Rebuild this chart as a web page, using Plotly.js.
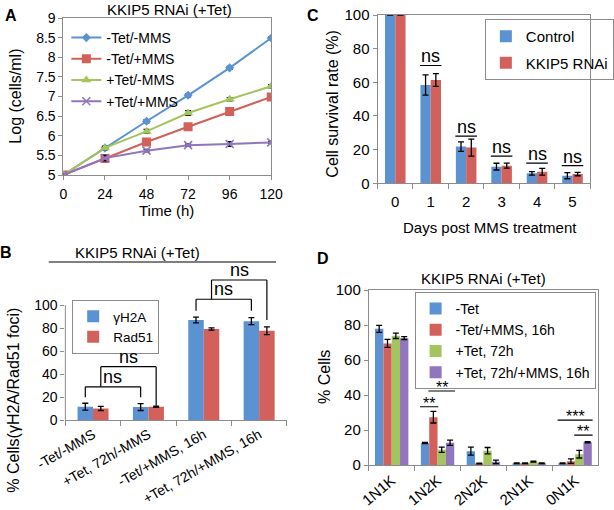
<!DOCTYPE html>
<html><head><meta charset="utf-8">
<script src="https://cdn.plot.ly/plotly-3.0.1.min.js"></script>
<style>html,body{margin:0;padding:0;background:#fff}#chart{width:614px;height:510px}</style>
</head><body><div id="chart"></div>
<script>
// ---------- Panel A: growth curves ----------
const timeHours = [0, 24, 48, 72, 96, 120];
const growthNames = ['-Tet/-MMS', '-Tet/+MMS', '+Tet/-MMS', '+Tet/+MMS'];
const growthMinusTetMinusMMS = [5.0, 5.69, 6.37, 7.03, 7.73, 8.49];
const growthMinusTetPlusMMS  = [5.0, 5.42, 5.84, 6.23, 6.62, 6.99];
const growthPlusTetMinusMMS  = [5.0, 5.69, 6.11, 6.58, 6.93, 7.26];
const growthPlusTetPlusMMS   = [5.0, 5.43, 5.62, 5.76, 5.79, 5.83];
const errMinusTetMinusMMS = [0.02, 0.04, 0.04, 0.04, 0.04, 0.03];
const errMinusTetPlusMMS  = [0.02, 0.10, 0.05, 0.04, 0.04, 0.06];
const errPlusTetMinusMMS  = [0.02, 0.04, 0.05, 0.06, 0.04, 0.04];
const errPlusTetPlusMMS   = [0.02, 0.07, 0.03, 0.03, 0.06, 0.03];

// ---------- Panel C: survival ----------
const days = ['0', '1', '2', '3', '4', '5'];
const survivalNames = ['Control', 'KKIP5 RNAi'];
const survivalControl = [100, 58.4, 21.8, 9.9, 5.9, 4.5];
const survivalControlErr = [0, 6, 2.8, 2, 1, 1.8];
const survivalRNAi = [100, 61.4, 21.2, 10.5, 6.9, 5.5];
const survivalRNAiErr = [0, 3.8, 5, 1.5, 2, 1];
const survivalNsLevel = [null, 70, 28, 16.2, 12, 10.5];
const survivalNsLabel = ['', 'ns', 'ns', 'ns', 'ns', 'ns'];

// ---------- Panel B: foci ----------
const fociCats = ['-Tet/-MMS', '+Tet, 72h/-MMS', '-Tet/+MMS, 16h', '+Tet, 72h/+MMS, 16h'];
const fociNames = ['\u03b3H2A', 'Rad51'];
const fociGammaH2A = [11.8, 11.5, 87, 86];
const fociGammaH2AErr = [3, 3, 2.5, 3];
const fociRad51 = [10.3, 11.8, 79.2, 77.7];
const fociRad51Err = [1.8, 0.5, 1, 3.3];
// brackets: series index, category from/to, top level, leg ends
const bracketSeries = [0, 1, 0, 1];
const bracketFrom = [0, 0, 2, 2];
const bracketTo = [1, 1, 3, 3];
const bracketTop = [29, 46.5, 105, 121.7];
const bracketLegLeft = [20, 29, 95, 105];
const bracketLegRight = [20, 12.7, 95, 87];
const bracketLabel = ['ns', 'ns', 'ns', 'ns'];

// ---------- Panel D: cell cycle ----------
const knCats = ['1N1K', '1N2K', '2N2K', '2N1K', '0N1K'];
const knNames = ['-Tet', '-Tet/+MMS, 16h', '+Tet, 72h', '+Tet, 72h/+MMS, 16h'];
const knMinusTet = [77.8, 12.6, 7.9, 1.0, 1.0];
const knMinusTetErr = [2, 0.3, 2.3, 0.2, 0.2];
const knMinusTetMMS = [69.5, 27.3, 0.8, 1.0, 2.2];
const knMinusTetMMSErr = [2.3, 3.3, 0.2, 0.2, 1.3];
const knPlusTet = [73.8, 8.7, 8.2, 1.9, 6.2];
const knPlusTetErr = [1.5, 1.5, 1.8, 0.3, 2.2];
const knPlusTetMMS = [72.5, 12.7, 1.8, 1.0, 13.0];
const knPlusTetMMSErr = [0.8, 1.5, 1.0, 0.2, 0.3];
const sigCat = [1, 1, 4, 4];
const sigFrom = [0, 1, 0, 2];
const sigTo = [1, 3, 3, 3];
const sigLevel = [33.3, 42.3, 25.7, 17.1];
const sigLabel = ['**', '**', '***', '**'];

// ---------- styling ----------
const W = 614, H = 510;
const px = v => v / W;
const py = v => 1 - v / H;
const FONT = 'Liberation Sans, Arial, sans-serif';
const BLUE = '#5A92D2', RED = '#D2605B', GREEN = '#A4C55E', PURPLE = '#9175BD';
const AXC = '#8C8C8C';
const errStyle = (arr) => ({type: 'data', array: arr, visible: true, color: '#000', thickness: 1.3, width: 3});

const traces = [];
// A
const aSeries = [growthMinusTetMinusMMS, growthMinusTetPlusMMS, growthPlusTetMinusMMS, growthPlusTetPlusMMS];
const aErr = [errMinusTetMinusMMS, errMinusTetPlusMMS, errPlusTetMinusMMS, errPlusTetPlusMMS];
const aColors = [BLUE, RED, GREEN, PURPLE];
const aSymbols = ['diamond', 'square', 'triangle-up', 'x-thin-open'];
const aSizes = [7, 9, 9, 8];
aSeries.forEach((ys, i) => {
  traces.push({
    type: 'scatter', mode: 'lines+markers', name: growthNames[i],
    x: timeHours, y: ys, xaxis: 'x', yaxis: 'y', legend: 'legend',
    line: {color: aColors[i], width: 2},
    marker: {symbol: aSymbols[i], size: aSizes[i], color: aColors[i], line: {color: aColors[i], width: i === 3 ? 1.6 : 0}},
    error_y: errStyle(aErr[i])
  });
});
// C
const wC = 0.29;
[[survivalControl, survivalControlErr, BLUE], [survivalRNAi, survivalRNAiErr, RED]].forEach((s, i) => {
  traces.push({
    type: 'bar', name: survivalNames[i], x: days, y: s[0], xaxis: 'x2', yaxis: 'y2', legend: 'legend2',
    legendgroup: 'c' + i,
    width: wC, offset: i === 0 ? -wC : 0, marker: {color: s[2]}, error_y: errStyle(s[1])
  });
});
// B
const wB = 0.28;
[[fociGammaH2A, fociGammaH2AErr, BLUE], [fociRad51, fociRad51Err, RED]].forEach((s, i) => {
  traces.push({
    type: 'bar', name: fociNames[i], x: fociCats, y: s[0], xaxis: 'x3', yaxis: 'y3', legend: 'legend3',
    width: wB, offset: i === 0 ? -wB : 0, marker: {color: s[2]}, error_y: errStyle(s[1])
  });
});
// D
const wD = 0.182;
const dSeries = [[knMinusTet, knMinusTetErr, BLUE], [knMinusTetMMS, knMinusTetMMSErr, RED], [knPlusTet, knPlusTetErr, GREEN], [knPlusTetMMS, knPlusTetMMSErr, PURPLE]];
dSeries.forEach((s, i) => {
  traces.push({
    type: 'bar', name: knNames[i], x: knCats, y: s[0], xaxis: 'x4', yaxis: 'y4', legend: 'legend4',
    width: wD, offset: (i - 2) * wD, marker: {color: s[2]}, error_y: errStyle(s[1])
  });
});

const shapes = [];
const annotations = [];
// C ns lines
survivalNsLevel.forEach((lv, i) => {
  if (lv === null) return;
  shapes.push({type: 'line', xref: 'x2', yref: 'y2', x0: i - wC * 1.05, x1: i + wC * 1.05, y0: lv, y1: lv, line: {color: '#000', width: 1.2}});
  annotations.push({xref: 'x2', yref: 'y2', x: i, y: lv, text: survivalNsLabel[i], showarrow: false, yanchor: 'bottom', yshift: -3, font: {size: 18, family: FONT, color: '#000'}});
});
// B brackets
bracketSeries.forEach((s, k) => {
  const off = s === 0 ? -wB / 2 : wB / 2;
  const xa = bracketFrom[k] + off, xb = bracketTo[k] + off;
  const ln = {color: '#000', width: 1.2};
  shapes.push({type: 'line', xref: 'x3', yref: 'y3', x0: xa, x1: xa, y0: bracketLegLeft[k], y1: bracketTop[k], line: ln});
  shapes.push({type: 'line', xref: 'x3', yref: 'y3', x0: xa, x1: xb, y0: bracketTop[k], y1: bracketTop[k], line: ln});
  shapes.push({type: 'line', xref: 'x3', yref: 'y3', x0: xb, x1: xb, y0: bracketLegRight[k], y1: bracketTop[k], line: ln});
  annotations.push({xref: 'x3', yref: 'y3', x: (xa + xb) / 2, y: bracketTop[k], text: bracketLabel[k], showarrow: false, yanchor: 'bottom', yshift: -2, font: {size: 18, family: FONT, color: '#000'}});
});
// B y axis line 0..100
shapes.push({type: 'line', xref: 'x3 domain', yref: 'y3', x0: 0, x1: 0, y0: 0, y1: 100, line: {color: AXC, width: 1}});
// D significance
sigCat.forEach((c, k) => {
  const ca = c + (sigFrom[k] - 1.5) * wD - 0.6 * wD;
  const cb = c + (sigTo[k] - 1.5) * wD + 0.6 * wD;
  shapes.push({type: 'line', xref: 'x4', yref: 'y4', x0: ca, x1: cb, y0: sigLevel[k], y1: sigLevel[k], line: {color: '#000', width: 1.2}});
  annotations.push({xref: 'x4', yref: 'y4', x: (ca + cb) / 2, y: sigLevel[k], text: sigLabel[k], showarrow: false, yanchor: 'bottom', yshift: -7, font: {size: 16, family: FONT, color: '#000'}});
});
// B header line
shapes.push({type: 'line', xref: 'paper', yref: 'paper', x0: px(50), x1: px(283), y0: py(262), y1: py(262), line: {color: '#000', width: 1.2}});

const txt = (x, y, text, size, extra) => Object.assign({xref: 'paper', yref: 'paper', x: px(x), y: py(y), text, showarrow: false, xanchor: 'center', yanchor: 'middle', font: {size, family: FONT, color: '#000'}}, extra || {});
annotations.push(
  txt(11, 15, '<b>A</b>', 16), txt(6, 252, '<b>B</b>', 16), txt(321, 15, '<b>C</b>', 16), txt(331, 258, '<b>D</b>', 16),
  txt(174, 9, 'KKIP5 RNAi (+Tet)', 15),
  txt(171, 210, 'Time (h)', 15),
  txt(15, 96, 'Log (cells/ml)', 16, {textangle: -90}),
  txt(502, 227, 'Days post MMS treatment', 15),
  txt(341, 104, 'Cell survival rate (%)', 16, {textangle: -90}),
  txt(141, 252, 'KKIP5 RNAi (+Tet)', 15),
  txt(13, 400, '% Cells(\u03b3H2A/Rad51 foci)', 16, {textangle: -90}),
  txt(496, 278, 'KKIP5 RNAi (+Tet)', 15),
  txt(332, 377, '% Cells', 16, {textangle: -90})
);

const baseAxis = {showgrid: false, zeroline: false, showline: true, linecolor: AXC, linewidth: 1, ticks: 'outside', ticklen: 4, tickcolor: AXC, tickfont: {size: 14, family: FONT, color: '#000'}, fixedrange: true};
const legBase = {xanchor: 'left', yanchor: 'top', bgcolor: 'rgba(255,255,255,0)', bordercolor: AXC, borderwidth: 1, font: {size: 14, family: FONT, color: '#000'}};

const layout = {
  width: W, height: H, margin: {l: 0, r: 0, t: 0, b: 0},
  paper_bgcolor: '#fff', plot_bgcolor: '#fff',
  font: {family: FONT, color: '#000'},
  barmode: 'overlay',
  xaxis: Object.assign({}, baseAxis, {domain: [px(65), px(278)], range: [0, 120], tickvals: timeHours, mirror: true, anchor: 'y', ticklabelstandoff: 2}),
  yaxis: Object.assign({}, baseAxis, {domain: [py(175), py(18)], range: [5, 9], dtick: 0.5, mirror: true, anchor: 'x'}),
  xaxis2: Object.assign({}, baseAxis, {domain: [px(387), px(605)], type: 'category', range: [-0.5, 5.5], tickson: 'boundaries', ticklen: 5, mirror: true, anchor: 'y2', tickfont: {size: 15, family: FONT, color: '#000'}, ticklabelstandoff: 5}),
  yaxis2: Object.assign({}, baseAxis, {domain: [py(183.3), py(15)], range: [0, 100], dtick: 20, mirror: true, anchor: 'x2', tickfont: {size: 15, family: FONT, color: '#000'}}),
  xaxis3: Object.assign({}, baseAxis, {domain: [px(67), px(294)], type: 'category', range: [-0.5, 3.5], tickson: 'boundaries', ticklen: 5, tickangle: -30, anchor: 'y3'}),
  yaxis3: Object.assign({}, baseAxis, {domain: [py(420.3), py(276.2)], range: [0, 125], tickvals: [0, 20, 40, 60, 80, 100], showline: false, anchor: 'x3'}),
  xaxis4: Object.assign({}, baseAxis, {domain: [px(378), px(613)], type: 'category', range: [-0.5, 4.5], tickson: 'boundaries', ticklen: 5, tickangle: -40, mirror: true, anchor: 'y4', tickfont: {size: 15, family: FONT, color: '#000'}}),
  yaxis4: Object.assign({}, baseAxis, {domain: [py(465), py(290)], range: [0, 100], dtick: 20, mirror: true, anchor: 'x4', tickfont: {size: 15, family: FONT, color: '#000'}}),
  legend: Object.assign({}, legBase, {x: px(68), y: py(22), borderwidth: 0}),
  legend2: Object.assign({}, legBase, {x: px(497), y: py(19), font: {size: 15, family: FONT, color: '#000'}, tracegroupgap: 4}),
  legend3: Object.assign({}, legBase, {x: px(74), y: py(300), font: {size: 13.5, family: FONT, color: '#000'}}),
  legend4: Object.assign({}, legBase, {x: px(425), y: py(292), font: {size: 14, family: FONT, color: '#000'}}),
  shapes, annotations,
  showlegend: true
};

Plotly.newPlot('chart', traces, layout, {displayModeBar: false, staticPlot: true});
</script>
</body></html>
